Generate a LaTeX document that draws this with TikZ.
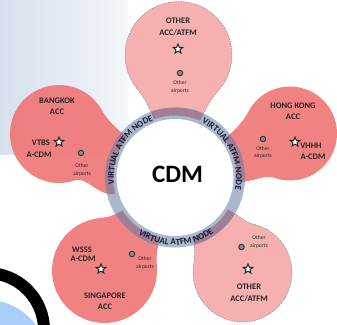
\documentclass[tikz,border=0pt]{standalone}
\usepackage{fontspec}
\setmainfont{Carlito}
\usetikzlibrary{calc,shapes.geometric,decorations.text}
\definecolor{bgblueL}{HTML}{D6E0EC}
\definecolor{bgblueR}{HTML}{F3F6FA}
\definecolor{petdark}{HTML}{F07474}
\definecolor{petlight}{HTML}{F6B0B0}
\definecolor{ringc}{HTML}{A9B8CC}
\definecolor{mauve}{HTML}{A07E93}
\definecolor{ringtxt}{HTML}{141E36}
\definecolor{lblc}{HTML}{262626}
\definecolor{skyb}{HTML}{A8CDF7}
\newcommand\petal[8]{%
 \path[#1] ($(O)+(#6:62)$) .. controls ($(O)+(#6:78)$) and ($(#2,#3)+({#5-180+#8}:#4)+({#5-270+#8}:12)$) .. ($(#2,#3)+({#5-180+#8}:#4)$) arc[start angle={#5-180+#8}, end angle={#5+180-#8}, radius=#4] .. controls ($(#2,#3)+({#5+180-#8}:#4)+({#5+270-#8}:12)$) and ($(O)+(#7:78)$) .. ($(O)+(#7:62)$) arc[start angle=#7, end angle=#6, radius=62] -- cycle;}
\newcommand\petTop[1]{\petal{#1}{178.5}{269}{53.5}{88.4}{66}{110}{50}}
\newcommand\petBkk[1]{\petal{#1}{59}{190}{49}{159.4}{140}{195}{50}}
\newcommand\petHkg[1]{\petal{#1}{290}{190.5}{47}{20.9}{-4}{38}{50}}
\newcommand\petSin[1]{\petal{#1}{104.5}{53.5}{52.5}{232.8}{212}{256}{50}}
\newcommand\petBr[1]{\petal{#1}{242.5}{51.5}{49.5}{305.4}{286}{329}{50}}
\tikzset{
 darkpet/.style={fill=petdark, fill opacity=0.9},
 lightpet/.style={fill=petlight, draw=black!45, line width=0.5pt, dash pattern=on 1.5pt off 1pt},
 lbl/.style={font=\bfseries\fontsize{8.5}{11.5}\selectfont, text=lblc, align=center, inner sep=0pt},
 small/.style={font=\fontsize{5.5}{7.5}\selectfont, text=lblc, align=center, inner sep=0pt},
 starm/.style={star, star points=5, star point ratio=2.3, minimum size=10pt, inner sep=0pt, fill=white, draw=black!85, line width=1pt},
 dotm/.style={circle, minimum size=5.5pt, inner sep=0pt, fill=black!45, draw=black!80, line width=0.9pt},
 ringlbl/.style={decorate, decoration={text along path, text align=center, text color=ringtxt, text={|\bfseries\fontsize{9}{10}\selectfont|VIRTUAL ATFM NODE}}}
}
\begin{document}
\begin{tikzpicture}[x=1pt,y=1pt]
\useasboundingbox (0,0) rectangle (337,324);
\coordinate (O) at (175,146.5);
\begin{scope}
\clip (0,0) rectangle (337,324);
\shade[left color=bgblueL, right color=bgblueR] (0,169) rectangle (128,324);
\fill[skyb] (-13,-36) circle (60);
\fill[black, even odd rule] (-13,-6) circle (63) (-13,-6) circle (51);
\petTop{lightpet}
\petBr{lightpet}
\petBkk{darkpet}
\petHkg{darkpet}
\petSin{darkpet}
\end{scope}
% ring
\fill[ringc] (O) circle (70);
\begin{scope}
\clip (O) circle (70);
\petTop{fill=mauve}
\petBr{fill=mauve}
\petBkk{fill=mauve}
\petHkg{fill=mauve}
\petSin{fill=mauve}
\end{scope}
\fill[ringc] (O) circle (61);
\fill[white] (O) circle (58.5);
\path[ringlbl] ($(O)+(192:61)$) arc[start angle=192, end angle=105, radius=61];
\path[ringlbl] ($(O)+(67:61)$) arc[start angle=67, end angle=-14, radius=61];
\path[ringlbl] ($(O)+(230:67.5)$) arc[start angle=230, end angle=312, radius=67.5];
\node[font=\bfseries\fontsize{25}{30}\selectfont, text=black, inner sep=0pt] (cdm) at (177.5,150) {CDM};
% top petal
\node[lbl] (topl) at (178,297) {OTHER\\ACC/ATFM};
\node[starm] (tops) at (178,275) {};
\node[dotm] (topd) at (180,251) {};
\node[small] (topa) at (180,237) {Other\\airports};
% Bangkok
\node[lbl] (bkkl) at (57,218) {BANGKOK\\ACC};
\node[lbl] (bkkv) at (41,181) {VTBS};
\node[lbl] (bkkc) at (39,169) {A-CDM};
\node[starm] (bkks) at (59,182) {};
\node[dotm] (bkkd) at (81,171) {};
\node[small] (bkka) at (82,154) {Other\\airports};
% Hong Kong
\node[lbl] (hkgl) at (293,213) {HONG KONG\\ACC};
\node[dotm] (hkgd) at (263,185) {};
\node[small] (hkga) at (263,171.5) {Other\\airports};
\node[starm] (hkgs) at (295,182) {};
\node[lbl] (hkgv) at (311,178) {VHHH};
\node[lbl] (hkgc) at (313,167) {A-CDM};
% Singapore
\node[lbl] (sinw) at (82,74) {WSSS};
\node[lbl] (sinc) at (83,65) {A-CDM};
\node[starm] (sins) at (101,55) {};
\node[dotm] (sind) at (132,70) {};
\node[small] (sina) at (145,61) {Other\\airports};
\node[lbl] (sinl) at (105,23) {SINGAPORE\\ACC};
% bottom right
\node[small] (bra) at (259,82) {Other\\airports};
\node[dotm] (brd) at (241.5,77) {};
\node[starm] (brs) at (248,55) {};
\node[lbl] (brl) at (249,31) {OTHER\\ACC/ATFM};
\end{tikzpicture}
\end{document}
